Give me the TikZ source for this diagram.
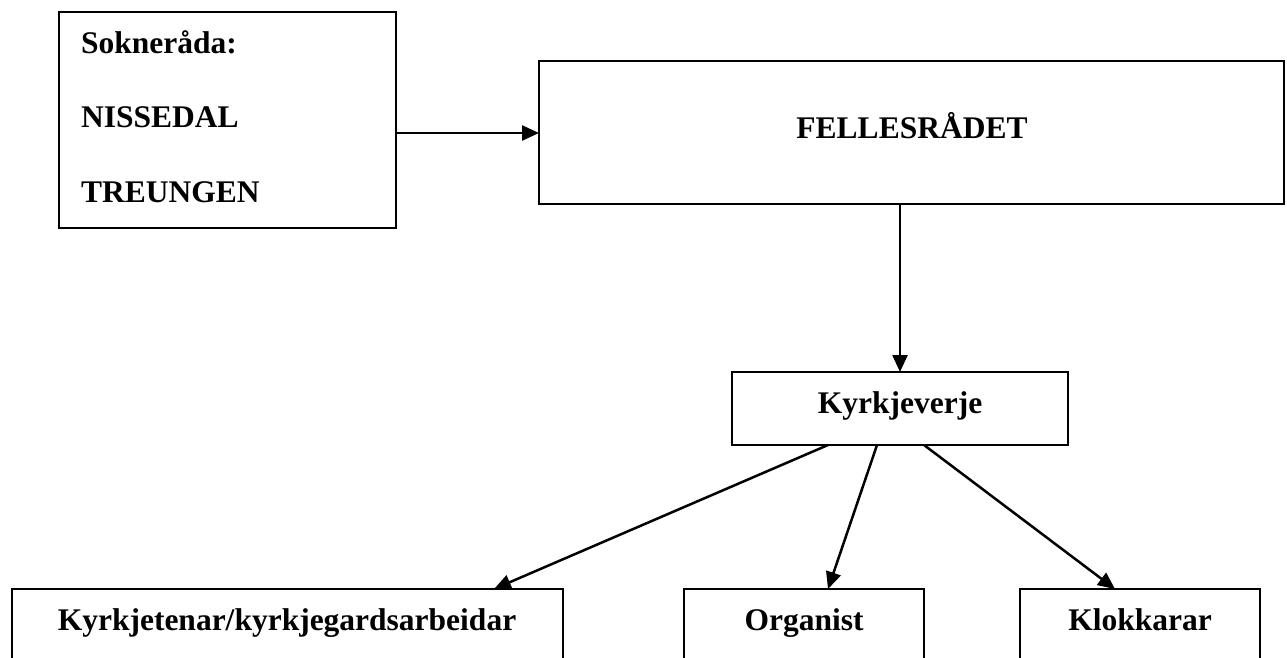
\documentclass[tikz,border=0pt]{standalone}
\usepackage{fontspec}
\setmainfont{Liberation Serif}
\usetikzlibrary{arrows.meta}
\begin{document}
\begin{tikzpicture}[x=1pt,y=-1pt,
  box/.style={draw=black, line width=2.5pt, inner sep=0pt, outer sep=0pt},
  txt/.style={inner sep=0pt, font=\fontsize{31.5}{36}\selectfont\bfseries},
  arr/.style={line width=2.5pt, -{Triangle[length=17pt,width=15pt]}}]
\useasboundingbox (0,0) rectangle (1287,657);
\fill[white] (0,0) rectangle (1287,657);
\clip (0,0) rectangle (1287,657);
% boxes
\node[box, minimum width=337pt, minimum height=216pt] (sok) at (227.5,120) {};
\node[box, minimum width=745pt, minimum height=143pt] (fel) at (911.5,132.5) {};
\node[box, minimum width=336pt, minimum height=73pt] (kv) at (900,408.5) {};
\node[box, minimum width=551pt, minimum height=200pt] (kt) at (287.5,689) {};
\node[box, minimum width=240pt, minimum height=200pt] (org) at (804,689) {};
\node[box, minimum width=240pt, minimum height=200pt] (klo) at (1140,689) {};
% texts
\node[txt, anchor=base west] (t1) at (81,53) {Sokneråda:};
\node[txt, anchor=base west] (t2) at (81,127) {NISSEDAL};
\node[txt, anchor=base west] (t3) at (81,202) {TREUNGEN};
\node[txt, anchor=base] (t4) at (912,138) {FELLESRÅDET};
\node[txt, anchor=base] (t5) at (900,413) {Kyrkjeverje};
\node[txt, anchor=base] (t6) at (287,630) {Kyrkjetenar/kyrkjegardsarbeidar};
\node[txt, anchor=base] (t7) at (804,630) {Organist};
\node[txt, anchor=base] (t8) at (1140,630) {Klokkarar};
% connectors
\coordinate (a1) at ([yshift=-13pt]sok.east);
\draw[arr] (a1) -- (a1 -| fel.west);
\draw[arr] (kv.north |- fel.south) -- (kv.north);
\draw[arr] ([xshift=-72pt]kv.south) -- ([xshift=206.5pt]kt.north);
\draw[arr] ([xshift=-23pt]kv.south) -- ([xshift=24pt]org.north);
\draw[arr] ([xshift=24pt]kv.south) -- ([xshift=-25pt]klo.north);
\end{tikzpicture}
\end{document}
